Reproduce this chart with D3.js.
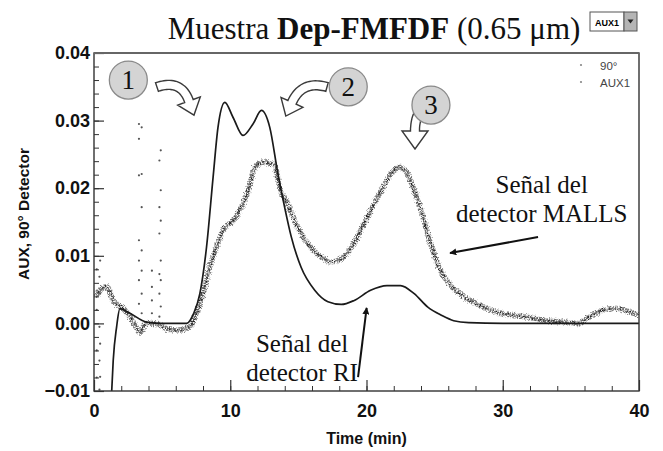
<!DOCTYPE html>
<html>
<head>
<meta charset="utf-8">
<script src="https://cdn.jsdelivr.net/npm/d3@7"></script>
<style>
  body { margin: 0; background: #fff; }
  svg { display: block; }
</style>
</head>
<body>
<svg id="chart" width="663" height="451"></svg>
<script>
// RI detector (AUX1)
var timeRI = [1.3, 1.41, 1.66, 1.9, 2.64, 3.86, 5.0, 6.8, 7.3, 7.77, 8.26, 8.74, 9.1, 9.6, 10.2, 10.94, 11.67, 12.29, 12.9, 13.5, 13.99, 14.48, 15.2, 16.2, 17.17, 18.15, 19.1, 20.3, 21.5, 22.5, 23.5, 24.5, 25.5, 26.4, 27.5, 30, 35, 40];
var signalRI = [-0.0100, -0.0055, -0.0005, 0.0022, 0.0015, 0.0002, 0.0000, 0.0000, 0.0014, 0.0044, 0.0113, 0.0216, 0.0290, 0.0327, 0.0305, 0.0278, 0.0295, 0.0315, 0.0290, 0.0221, 0.0172, 0.0128, 0.0083, 0.0049, 0.0032, 0.0028, 0.0034, 0.0049, 0.0056, 0.0056, 0.0044, 0.0024, 0.0012, 0.0004, 0.0001, 0.0000, 0.0000, 0.0000];

// MALLS 90° detector
var timeMALLS = [0.1, 0.44, 0.93, 1.41, 2.15, 2.88, 3.37, 3.86, 4.6, 5.3, 6.06, 7.03, 7.4, 8.0, 8.5, 8.99, 9.47, 10.2, 10.94, 11.4, 11.8, 12.16, 12.5, 12.9, 13.26, 13.6, 14.2, 14.96, 15.7, 16.7, 17.4, 18.15, 18.9, 19.6, 20.3, 21.1, 21.8, 22.4, 23.0, 23.5, 24.0, 24.65, 25.4, 26.15, 27.05, 28.3, 29.5, 30.7, 31.9, 33.2, 34.4, 35.6, 36.3, 37.3, 38.3, 39.3, 40];
var signalMALLS = [0.0040, 0.0049, 0.0054, 0.0034, 0.0022, 0.0002, -0.0013, 0.0000, 0.0000, -0.0008, -0.0010, -0.0005, 0.0009, 0.0044, 0.0083, 0.0113, 0.0138, 0.0152, 0.0177, 0.0202, 0.0231, 0.0236, 0.0239, 0.0236, 0.0234, 0.0202, 0.0177, 0.0142, 0.0118, 0.0098, 0.0091, 0.0096, 0.0113, 0.0138, 0.0167, 0.0197, 0.0221, 0.0231, 0.0221, 0.0197, 0.0167, 0.0122, 0.0080, 0.0057, 0.0041, 0.0027, 0.0017, 0.0012, 0.0009, 0.0004, 0.0002, 0.0000, 0.0009, 0.0019, 0.0022, 0.0017, 0.0012];

// stray points at the start of the run
var sprayTime = [3.3, 3.5, 3.3, 3.5, 3.3, 3.5, 3.3, 3.5, 3.3, 3.5, 3.3, 3.5, 3.3, 3.5,
                 4.25, 4.25, 4.25, 4.25,
                 4.9, 4.8, 4.9, 4.8, 4.9, 4.8, 4.9, 4.8, 4.9, 4.8, 4.9, 4.8,
                 0.45, 0.4, 0.45, 0.4, 0.45, 0.4, 0.45, 0.4,
                 0.2, 0.2, 0.2, 0.2];
var sprayValue = [0.0295, 0.0290, 0.0273, 0.0221, 0.0219, 0.0172, 0.0123, 0.0108, 0.0093, 0.0078, 0.0064, 0.0044, 0.0029, 0.0015,
                  0.0078, 0.0054, 0.0034, 0.0015,
                  0.0256, 0.0241, 0.0197, 0.0172, 0.0152, 0.0133, 0.0093, 0.0073, 0.0064, 0.0044, 0.0025, 0.0010,
                  0.0093, 0.0069, 0.0044, -0.0005, -0.0030, -0.0055, -0.0079, -0.0098,
                  0.0080, 0.0020, -0.0040, -0.0080];

var xTicks = [0, 10, 20, 30, 40];
var yTicks = [-0.01, 0, 0.01, 0.02, 0.03, 0.04];
var legendLabels = ["90°", "AUX1"];

// numbered callouts (data coords): circle centre, arrow tail / bend / end
var calloutNumbers = ["1", "2", "3"];
var calloutCircle = [[2.52, 0.0360], [18.66, 0.0350], [24.73, 0.0323]];
var calloutArrow = [
  [[4.62, 0.03497], [6.39, 0.03615], [6.97, 0.0329]],
  [[17.10, 0.03497], [15.27, 0.03601], [14.53, 0.0327]],
  [[25.17, 0.03231], [23.56, 0.03245], [23.56, 0.02846]]
];

var W = 663, H = 451;
var margin = {top: 53, right: 24, bottom: 60, left: 94};

var svg = d3.select("#chart");

var x = d3.scaleLinear().domain([0, 40]).range([margin.left, W - margin.right]);
var y = d3.scaleLinear().domain([-0.01, 0.04]).range([H - margin.bottom, margin.top]);

var defs = svg.append("defs");
defs.append("clipPath").attr("id", "plotclip")
  .append("rect")
  .attr("x", margin.left).attr("y", margin.top)
  .attr("width", W - margin.left - margin.right)
  .attr("height", H - margin.top - margin.bottom);

// scanner-like fuzz for the scattered MALLS points
function addJitter(id, seed, scale) {
  var f = defs.append("filter").attr("id", id)
    .attr("x", "-5%").attr("y", "-10%").attr("width", "110%").attr("height", "120%");
  f.append("feTurbulence").attr("type", "fractalNoise")
    .attr("baseFrequency", "0.8").attr("numOctaves", 1).attr("seed", seed).attr("result", "noise");
  f.append("feDisplacementMap").attr("in", "SourceGraphic").attr("in2", "noise")
    .attr("scale", scale).attr("xChannelSelector", "R").attr("yChannelSelector", "G");
}
addJitter("jitterA", 3, 5);
addJitter("jitterB", 11, 6);

defs.append("marker").attr("id", "head")
  .attr("viewBox", "0 0 10 10").attr("refX", 9).attr("refY", 5)
  .attr("markerWidth", 7).attr("markerHeight", 7).attr("orient", "auto")
  .attr("markerUnits", "userSpaceOnUse")
  .append("path").attr("d", "M0,0L10,5L0,10Z").attr("fill", "#111");

// title
var title = svg.append("text")
  .attr("x", 374).attr("y", 39)
  .attr("text-anchor", "middle")
  .style("font-family", "'Liberation Serif', 'Times New Roman', serif")
  .style("font-size", "31px")
  .attr("fill", "#111");
title.append("tspan").text("Muestra ");
title.append("tspan").attr("font-weight", "bold").text("Dep-FMFDF");
title.append("tspan").text(" (0.65 μm)");

// little dropdown widget next to the title
var dd = svg.append("g").attr("transform", "translate(590,12)");
dd.append("rect").attr("width", 34).attr("height", 19).attr("fill", "#fff").attr("stroke", "#555");
dd.append("text").attr("x", 17).attr("y", 13.5).attr("text-anchor", "middle")
  .style("font-family", "'Liberation Sans', Arial, sans-serif").style("font-size", "9px")
  .style("font-weight", "bold").text(legendLabels[1]);
dd.append("rect").attr("x", 34).attr("width", 13).attr("height", 19).attr("fill", "#b5b5b5").attr("stroke", "#555");
dd.append("path").attr("d", "M37.5,7.5L43.5,7.5L40.5,11.5Z").attr("fill", "#222");

// data
var plot = svg.append("g").attr("clip-path", "url(#plotclip)");

var malls = timeMALLS.map(function(t, i) { return [t, signalMALLS[i]]; });
var ri = timeRI.map(function(t, i) { return [t, signalRI[i]]; });

var lineGen = d3.line()
  .x(function(d) { return x(d[0]); })
  .y(function(d) { return y(d[1]); })
  .curve(d3.curveMonotoneX);

plot.append("path").datum(malls)
  .attr("d", lineGen).attr("fill", "none")
  .attr("stroke", "#555").attr("stroke-width", 5.5)
  .attr("stroke-dasharray", "1.4 1.1").attr("opacity", 0.8)
  .attr("filter", "url(#jitterA)");
plot.append("path").datum(malls)
  .attr("d", lineGen).attr("fill", "none")
  .attr("stroke", "#222").attr("stroke-width", 1.8)
  .attr("stroke-dasharray", "1.2 1.5")
  .attr("filter", "url(#jitterB)");

plot.selectAll("circle.spray")
  .data(sprayTime.map(function(t, i) { return [t, sprayValue[i]]; }))
  .enter().append("circle")
  .attr("class", "spray")
  .attr("cx", function(d) { return x(d[0]); })
  .attr("cy", function(d) { return y(d[1]); })
  .attr("r", 1.1).attr("fill", "#555");

plot.append("path").datum(ri)
  .attr("d", lineGen).attr("fill", "none")
  .attr("stroke", "#1a1a1a").attr("stroke-width", 1.7);

// axes
var tickFont = "'Liberation Sans', Arial, sans-serif";

var yMinor = d3.axisLeft(y).tickValues(d3.range(-0.01, 0.0401, 0.002)).tickSize(-5).tickFormat("");
svg.append("g").attr("transform", "translate(" + margin.left + ",0)").call(yMinor)
  .call(function(g) { g.select(".domain").remove(); })
  .selectAll("line").attr("stroke", "#333");

var yAxis = d3.axisLeft(y).tickValues(yTicks).tickSize(-10).tickPadding(4).tickFormat(d3.format(".2f"));
var gy = svg.append("g").attr("transform", "translate(" + margin.left + ",0)").call(yAxis);
gy.select(".domain").remove();
gy.selectAll("line").attr("stroke", "#333").attr("stroke-width", 1.2);
gy.selectAll("text").style("font-family", tickFont).style("font-size", "18px")
  .style("font-weight", "bold").attr("fill", "#111");

var xMinor = d3.axisBottom(x).tickValues(d3.range(0, 40.01, 2)).tickSize(-5).tickFormat("");
svg.append("g").attr("transform", "translate(0," + (H - margin.bottom) + ")").call(xMinor)
  .call(function(g) { g.select(".domain").remove(); })
  .selectAll("line").attr("stroke", "#333");

var xAxis = d3.axisBottom(x).tickValues(xTicks).tickSize(-11).tickPadding(13).tickFormat(d3.format("d"));
var gx = svg.append("g").attr("transform", "translate(0," + (H - margin.bottom) + ")").call(xAxis);
gx.select(".domain").remove();
gx.selectAll("line").attr("stroke", "#333").attr("stroke-width", 1.2);
gx.selectAll("text").style("font-family", tickFont).style("font-size", "18px")
  .style("font-weight", "bold").attr("fill", "#111");

// frame
svg.append("rect")
  .attr("x", margin.left).attr("y", margin.top)
  .attr("width", W - margin.left - margin.right)
  .attr("height", H - margin.top - margin.bottom)
  .attr("fill", "none").attr("stroke", "#333").attr("stroke-width", 1.4);
svg.append("line")
  .attr("x1", margin.left).attr("x2", W - margin.right)
  .attr("y1", margin.top).attr("y2", margin.top)
  .attr("stroke", "#666").attr("stroke-width", 2.2);

svg.append("text")
  .attr("x", (x.range()[0] + x.range()[1]) / 2).attr("y", 444)
  .attr("text-anchor", "middle")
  .style("font-family", tickFont).style("font-size", "16px").style("font-weight", "bold")
  .attr("fill", "#111").text("Time (min)");

svg.append("text")
  .attr("transform", "translate(23," + ((y.range()[0] + y.range()[1]) / 2 - 8) + ") rotate(-90)")
  .attr("text-anchor", "middle").attr("dominant-baseline", "central")
  .style("font-family", tickFont).style("font-size", "15.5px").style("font-weight", "bold")
  .attr("fill", "#111").text("AUX, 90° Detector");

// legend
var legend = svg.append("g").attr("transform", "translate(" + (W - margin.right - 58) + "," + (margin.top + 13) + ")");
legendLabels.forEach(function(lab, i) {
  legend.append("circle").attr("cx", 0).attr("cy", i * 17 - 1).attr("r", 1.1).attr("fill", "#888");
  legend.append("text").attr("x", 19).attr("y", i * 17 + 4)
    .style("font-family", tickFont).style("font-size", "11.5px")
    .attr("fill", "#444").text(lab);
});

// hollow curved callout arrows
function hollowArrow(p0, p1, p2, bodyW, headW, headL) {
  var n = 24, left = [], right = [];
  for (var i = 0; i <= n; i++) {
    var t = i / n;
    var px = (1 - t) * (1 - t) * p0[0] + 2 * (1 - t) * t * p1[0] + t * t * p2[0];
    var py = (1 - t) * (1 - t) * p0[1] + 2 * (1 - t) * t * p1[1] + t * t * p2[1];
    var dx = 2 * (1 - t) * (p1[0] - p0[0]) + 2 * t * (p2[0] - p1[0]);
    var dy = 2 * (1 - t) * (p1[1] - p0[1]) + 2 * t * (p2[1] - p1[1]);
    var len = Math.sqrt(dx * dx + dy * dy);
    var nx = -dy / len, ny = dx / len;
    left.push([px + nx * bodyW / 2, py + ny * bodyW / 2]);
    right.push([px - nx * bodyW / 2, py - ny * bodyW / 2]);
  }
  var ex = p2[0] - p1[0], ey = p2[1] - p1[1];
  var el = Math.sqrt(ex * ex + ey * ey);
  var ux = ex / el, uy = ey / el, hx = -uy, hy = ux;
  var head = [
    [p2[0] + hx * headW / 2, p2[1] + hy * headW / 2],
    [p2[0] + ux * headL, p2[1] + uy * headL],
    [p2[0] - hx * headW / 2, p2[1] - hy * headW / 2]
  ];
  var pts = left.concat(head, right.reverse());
  return "M" + pts.map(function(p) { return p[0].toFixed(1) + "," + p[1].toFixed(1); }).join("L") + "Z";
}

var headSize = [[24, 15], [24, 15], [26, 18]];
calloutArrow.forEach(function(a, i) {
  var p = a.map(function(d) { return [x(d[0]), y(d[1])]; });
  svg.append("path")
    .attr("d", hollowArrow(p[0], p[1], p[2], 9, headSize[i][0], headSize[i][1]))
    .attr("fill", "#fff").attr("stroke", "#3a3a3a").attr("stroke-width", 1.4)
    .attr("stroke-linejoin", "miter");
});

calloutCircle.forEach(function(c, i) {
  svg.append("circle").attr("cx", x(c[0])).attr("cy", y(c[1])).attr("r", 19)
    .attr("fill", "#d4d4d4").attr("stroke", "#8a8a8a").attr("stroke-width", 1.3);
  svg.append("text").attr("x", x(c[0])).attr("y", y(c[1]) + 9)
    .attr("text-anchor", "middle")
    .style("font-family", "'Liberation Serif', 'Times New Roman', serif").style("font-size", "27px")
    .attr("fill", "#111").text(calloutNumbers[i]);
});

// detector labels
var serif = "'Liberation Serif', 'Times New Roman', serif";
function label(t, v, lines) {
  lines.forEach(function(s, i) {
    svg.append("text").attr("x", x(t)).attr("y", y(v) + i * 29)
      .attr("text-anchor", "middle")
      .style("font-family", serif).style("font-size", "25px")
      .attr("fill", "#111").text(s);
  });
}
label(32.86, 0.01925, ["Señal del", "detector MALLS"]);
label(15.27, -0.00419, ["Señal del", "detector RI"]);

svg.append("line")
  .attr("x1", x(32.59)).attr("y1", y(0.01278))
  .attr("x2", x(26.13)).attr("y2", y(0.01041))
  .attr("stroke", "#111").attr("stroke-width", 2).attr("marker-end", "url(#head)");
svg.append("line")
  .attr("x1", x(19.38)).attr("y1", y(-0.00793))
  .attr("x2", x(20.01)).attr("y2", y(0.00228))
  .attr("stroke", "#111").attr("stroke-width", 2).attr("marker-end", "url(#head)");
</script>
</body>
</html>
